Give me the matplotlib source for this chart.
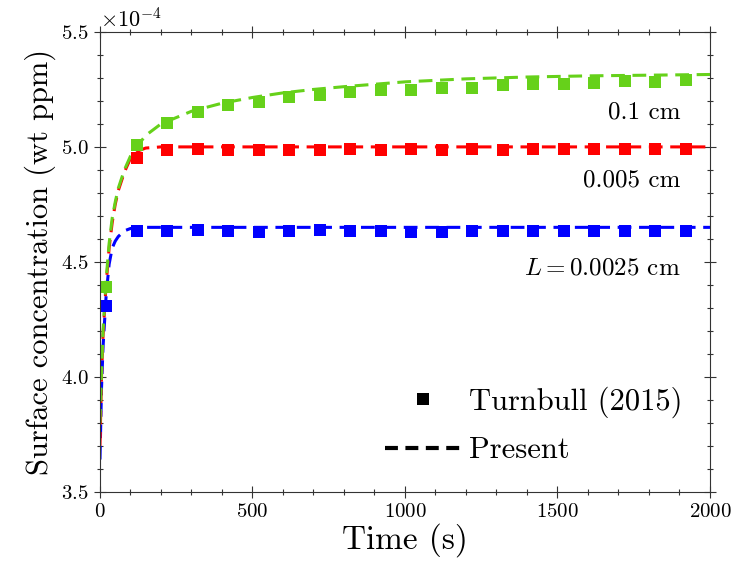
import numpy as np
import matplotlib
matplotlib.use("Agg")
import matplotlib.pyplot as plt
from matplotlib.ticker import MultipleLocator

plt.rcParams['font.family'] = 'cmr10'
plt.rcParams['mathtext.fontset'] = 'cm'
plt.rcParams['axes.formatter.use_mathtext'] = True

## Turnbull (2015) points, time in s, concentration in 1e-4 wt ppm
t_pts = [20, 120, 220, 320, 420, 520, 620, 720, 820, 920, 1020, 1120, 1220,
         1320, 1420, 1520, 1620, 1720, 1820, 1920]
green_pts = [4.39, 5.01, 5.105, 5.152, 5.183, 5.196, 5.218, 5.226, 5.239, 5.246,
             5.248, 5.255, 5.258, 5.268, 5.274, 5.272, 5.278, 5.285, 5.284, 5.29]
t_pts_r = t_pts[1:]
red_pts = [4.952, 4.987, 4.99, 4.985, 4.988, 4.986, 4.987, 4.99, 4.985, 4.99,
           4.988, 4.992, 4.986, 4.99, 4.99, 4.992, 4.99, 4.993, 4.99]
blue_pts = [4.31, 4.635, 4.635, 4.637, 4.634, 4.628, 4.635, 4.637, 4.634, 4.635,
            4.628, 4.628, 4.635, 4.636, 4.632, 4.635, 4.635, 4.633, 4.635, 4.633]

## present model curves
t_line = [0, 5, 10, 20, 30, 40, 50, 60, 80, 100, 120, 150, 200, 300, 400, 500,
          600, 700, 800, 1000, 1200, 1400, 1600, 1800, 2000]
green_line = [3.8, 4.02, 4.2, 4.42, 4.58, 4.69, 4.76, 4.82, 4.9, 4.96, 5.0, 5.05,
              5.1, 5.155, 5.19, 5.215, 5.235, 5.25, 5.262, 5.283, 5.296, 5.304,
              5.309, 5.312, 5.315]
red_line = [3.7, 4.0, 4.18, 4.4, 4.56, 4.67, 4.75, 4.81, 4.89, 4.95, 4.98, 4.995,
            5.0, 5.0, 5.0, 5.0, 5.0, 5.0, 5.0, 5.0, 5.0, 5.0, 5.0, 5.0, 5.0]
blue_line = [3.64, 3.95, 4.13, 4.35, 4.49, 4.56, 4.59, 4.61, 4.635, 4.645, 4.648,
             4.65, 4.65, 4.65, 4.65, 4.65, 4.65, 4.65, 4.65, 4.65, 4.65, 4.65,
             4.65, 4.65, 4.65]

col_g = '#66d11a'
col_r = '#ff0000'
col_b = '#0000ff'
dash = (4.5, 2.5)

fig = plt.figure(figsize=(7.33, 5.78), dpi=100)
ax = fig.add_axes([0.1364, 0.1493, 0.8322, 0.7954])

sc = 1e-4
ax.plot(t_line, np.array(blue_line)*sc, color=col_b, lw=2.2, dashes=dash)
ax.plot(t_line, np.array(red_line)*sc, color=col_r, lw=2.2, dashes=dash)
ax.plot(t_line, np.array(green_line)*sc, color=col_g, lw=2.2, dashes=dash)
ax.plot(t_pts, np.array(blue_pts)*sc, 's', color=col_b, ms=8.5, mew=0)
ax.plot(t_pts_r, np.array(red_pts)*sc, 's', color=col_r, ms=8.5, mew=0)
ax.plot(t_pts, np.array(green_pts)*sc, 's', color=col_g, ms=8.5, mew=0)

# legend proxies
ax.plot([], [], 's', color='k', ms=9, mew=0, label='Turnbull (2015)')
ax.plot([], [], color='k', lw=3, dashes=(3.1, 1.8), label='Present')
ax.legend(loc='lower right', bbox_to_anchor=(1.0, 0.0), frameon=False,
          fontsize=22, handlelength=2.5, handletextpad=0.26, labelspacing=0.62,
          borderaxespad=0.5)

ax.text(1902, 5.152e-4, '0.1 cm', ha='right', va='center', fontsize=18)
ax.text(1902, 4.856e-4, '0.005 cm', ha='right', va='center', fontsize=18)
ax.text(1902, 4.473e-4, r'$L=0.0025$ cm', ha='right', va='center', fontsize=18)

ax.set_xlim(0, 2000)
ax.set_ylim(3.5e-4, 5.5e-4)
ax.xaxis.set_major_locator(MultipleLocator(500))
ax.xaxis.set_minor_locator(MultipleLocator(100))
ax.yaxis.set_major_locator(MultipleLocator(0.5e-4))
ax.yaxis.set_minor_locator(MultipleLocator(0.1e-4))
ax.ticklabel_format(axis='y', style='sci', scilimits=(0, 0))
ax.yaxis.get_offset_text().set_fontsize(16)
ax.tick_params(which='both', direction='inout', top=True, right=True,
               labelsize=15, color='#333333')
ax.tick_params(which='major', length=9, width=0.8)
ax.tick_params(which='minor', length=5, width=0.8)
for s in ax.spines.values():
    s.set_linewidth(0.8)
    s.set_color('#333333')

ax.set_xlabel('Time (s)', fontsize=24, labelpad=2)
ax.set_ylabel('Surface concentration (wt ppm)', fontsize=22, labelpad=4)

plt.savefig('out.png', dpi=100)
